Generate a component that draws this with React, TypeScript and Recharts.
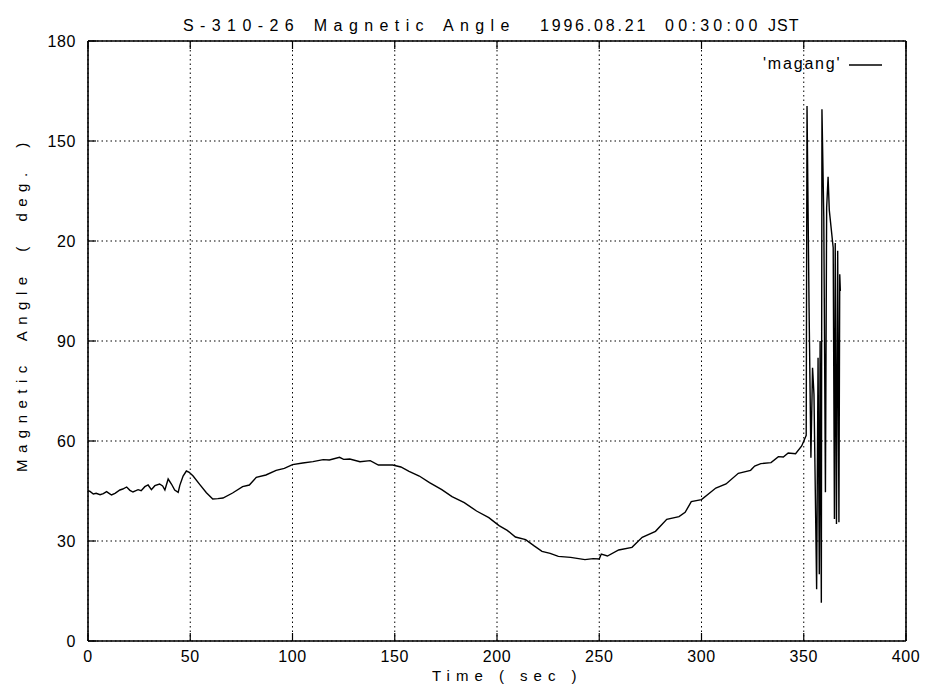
import React from 'react';
import { LineChart, Line, XAxis, YAxis, CartesianGrid } from 'recharts';

const time: number[] = [
  0, 1, 2.6, 4, 5.9, 7.5, 9.1, 10.3, 11.5, 13.2, 15.6, 17, 18.9, 20.5, 22, 24.5, 26, 27.8, 29.4, 31,
  32.7, 35, 36.5, 37.6, 39.2, 40.8, 42.4, 44.1, 44.9, 46.5, 48.1, 49.5, 51.4, 54.6, 57.9, 61, 63.5, 66,
  70.7, 75.6, 78.9, 82.3, 87, 92, 96, 100, 105, 110, 115, 118, 123, 125, 128, 133, 138, 142, 149, 153,
  157, 162, 167, 173, 178, 184, 190, 196, 201, 205, 209, 214, 218, 222, 226, 230, 236, 243, 247, 250,
  251, 254, 259.5, 266, 271, 277.5, 283, 289, 292, 295, 300, 307, 312, 318, 324, 326, 329, 334, 337.6,
  340, 342.4, 346, 349, 351.2,
  351.6, 352.6, 353.5, 354.3, 355, 356.3, 357, 357.6, 358, 358.6, 358.9, 359.8, 360.6, 361.2, 361.9,
  362.5, 364.4, 365, 365.4, 366, 366.6, 367.2, 367.6, 367.9,
];

const angle: number[] = [
  45.1, 44.9, 44.1, 44.3, 43.9, 44.2, 44.8, 44.3, 43.8, 44.3, 45.3, 45.6, 46.2, 45.2, 44.7, 45.4, 45.1, 46.3, 46.8, 45.4,
  46.6, 47.1, 46.5, 45.3, 48.6, 47.1, 45.3, 44.6, 46.7, 49.5, 51.0, 50.6, 49.5, 47.0, 44.5, 42.6, 42.7, 42.9,
  44.4, 46.3, 46.8, 49.1, 49.8, 51.2, 51.8, 52.9, 53.4, 53.8, 54.4, 54.3, 55.1, 54.5, 54.6, 53.8, 54.1, 52.8, 52.8, 52.2,
  50.9, 49.5, 47.5, 45.4, 43.3, 41.5, 39.0, 37.0, 34.6, 33.2, 31.2, 30.4, 28.6, 26.9, 26.3, 25.4, 25.1, 24.4, 24.7, 24.6,
  26.1, 25.5, 27.3, 28.1, 31.1, 32.9, 36.5, 37.3, 38.6, 41.8, 42.4, 45.9, 47.1, 50.3, 51.2, 52.5, 53.2, 53.5, 55.3,
  55.2, 56.4, 56.2, 58.5, 61.7,
  160.5, 100, 55, 82, 74, 15.5, 85, 20, 90, 11.5, 159.5, 127.3, 44.6, 130, 139.3,
  129.2, 118, 36.6, 119.4, 35.1, 117.1, 35.6, 110, 105,
];

const xTicks: number[] = [0, 50, 100, 150, 200, 250, 300, 350, 400];
const yTicks: number[] = [0, 30, 60, 90, 120, 150, 180];
const yTickLabels: string[] = ['0', '30', '60', '90', '20', '150', '180'];

const titleMain = 'S-310-26 Magnetic Angle';
const titleDate = '1996.08.21';
const titleTime = '00:30:00';
const titleZone = 'JST';
const xLabel = 'Time ( sec )';
const yLabel = 'Magnetic Angle ( deg. )';
const seriesName = "'magang'";

const data = time.map((t, i) => ({ t, v: angle[i] }));

const FONT = '"Liberation Sans", Arial, Helvetica, sans-serif';
const W = 928;
const H = 684;
// plot area: left 88, right 906, top 41, bottom 641
const M = { top: 31, right: 12, bottom: 13, left: 28 };

const BottomTick = (p: any) => {
  const { x, y, payload } = p;
  return (
    <g>
      <line x1={x} y1={y} x2={x} y2={y - 8} stroke="#000" strokeWidth={1.2} />
      <text x={x} y={y + 21} textAnchor="middle" fontSize={16} fontFamily={FONT} fill="#000" letterSpacing={0.6}>
        {payload.value}
      </text>
    </g>
  );
};

const TopTick = (p: any) => {
  const { x, y } = p;
  return <line x1={x} y1={y} x2={x} y2={y + 8} stroke="#000" strokeWidth={1.2} />;
};

const LeftTick = (p: any) => {
  const { x, y, payload } = p;
  const idx = yTicks.indexOf(payload.value);
  const label = idx >= 0 ? yTickLabels[idx] : String(payload.value);
  return (
    <g>
      <line x1={x} y1={y} x2={x + 8} y2={y} stroke="#000" strokeWidth={1.2} />
      <text x={x - 12} y={y + 6} textAnchor="end" fontSize={16} fontFamily={FONT} fill="#000" letterSpacing={0.6}>
        {label}
      </text>
    </g>
  );
};

const RightTick = (p: any) => {
  const { x, y } = p;
  return <line x1={x} y1={y} x2={x - 8} y2={y} stroke="#000" strokeWidth={1.2} />;
};

export default function App() {
  return (
    <div style={{ position: 'absolute', left: 0, top: 0, width: W, height: H, background: '#fff' }}>
      <LineChart width={W} height={H} data={data} margin={M}>
        <CartesianGrid
          xAxisId="b"
          yAxisId="l"
          stroke="#000"
          strokeWidth={1}
          strokeDasharray="1.5 3"
        />
        <XAxis
          xAxisId="b"
          dataKey="t"
          type="number"
          domain={[0, 400]}
          ticks={xTicks}
          orientation="bottom"
          height={30}
          tickSize={0}
          tickMargin={0}
          tickLine={false}
          tick={(p: any) => <BottomTick {...p} />}
          axisLine={{ stroke: '#000', strokeWidth: 1.6 }}
          interval={0}
          allowDataOverflow
        />
        <XAxis
          xAxisId="t"
          dataKey="t"
          type="number"
          domain={[0, 400]}
          ticks={xTicks}
          orientation="top"
          height={10}
          tickSize={0}
          tickMargin={0}
          tickLine={false}
          tick={(p: any) => <TopTick {...p} />}
          axisLine={{ stroke: '#000', strokeWidth: 1.6 }}
          interval={0}
        />
        <YAxis
          yAxisId="l"
          type="number"
          domain={[0, 180]}
          ticks={yTicks}
          orientation="left"
          width={60}
          tickSize={0}
          tickMargin={0}
          tickLine={false}
          tick={(p: any) => <LeftTick {...p} />}
          axisLine={{ stroke: '#000', strokeWidth: 1.6 }}
          interval={0}
          allowDataOverflow
        />
        <YAxis
          yAxisId="r"
          type="number"
          domain={[0, 180]}
          ticks={yTicks}
          orientation="right"
          width={10}
          tickSize={0}
          tickMargin={0}
          tickLine={false}
          tick={(p: any) => <RightTick {...p} />}
          axisLine={{ stroke: '#000', strokeWidth: 1.6 }}
          interval={0}
        />
        <Line
          xAxisId="b"
          yAxisId="l"
          type="linear"
          dataKey="v"
          stroke="#000"
          strokeWidth={1.4}
          dot={false}
          isAnimationActive={false}
          name={seriesName}
        />
      </LineChart>
      <svg
        width={W}
        height={H}
        style={{ position: 'absolute', left: 0, top: 0, pointerEvents: 'none' }}
        fontFamily={FONT}
      >
        <text x={183} y={31} fontSize={16} letterSpacing={6.4} wordSpacing={3} fill="#000">
          {titleMain}
        </text>
        <text x={540} y={31} fontSize={16} letterSpacing={2.8} fill="#000">
          {titleDate}
        </text>
        <text x={665} y={31} fontSize={16} letterSpacing={4.3} fill="#000">
          {titleTime}
        </text>
        <text x={768} y={31} fontSize={16} letterSpacing={1} fill="#000">
          {titleZone}
        </text>
        <text x={432} y={681} fontSize={15} letterSpacing={6} fill="#000">
          {xLabel}
        </text>
        <text
          x={0}
          y={0}
          fontSize={15}
          letterSpacing={6.5}
          wordSpacing={8}
          fill="#000"
          textAnchor="start"
          transform="translate(27,472) rotate(-90)"
        >
          {yLabel}
        </text>
        <text x={763} y={69} fontSize={16} letterSpacing={1.8} fill="#000">
          {seriesName}
        </text>
        <line x1={849} y1={65} x2={882} y2={65} stroke="#000" strokeWidth={1.4} />
      </svg>
    </div>
  );
}
